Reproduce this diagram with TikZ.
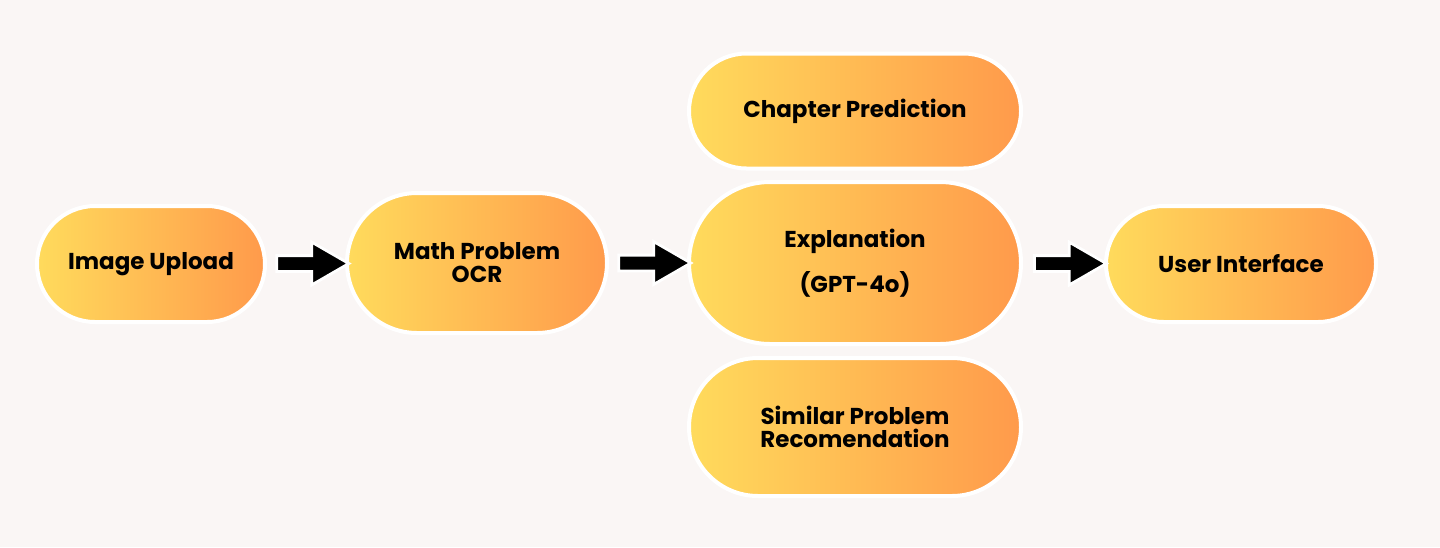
\documentclass[tikz,border=0pt]{standalone}
\usepackage{fontspec}
\setmainfont{Poppins}
\usetikzlibrary{shapes.misc, shapes.arrows, positioning}
\definecolor{bgpaper}{HTML}{FAF6F5}
\definecolor{pillL}{HTML}{FFDB5C}
\definecolor{pillR}{HTML}{FF9A4B}

\begin{document}
\begin{tikzpicture}[x=0.5pt, y=-0.5pt,
    pill/.style={rounded rectangle, draw=white, line width=2pt,
                 left color=pillL, right color=pillR, align=center,
                 font=\fontsize{11.5}{11.5}\selectfont\bfseries, inner sep=0pt},
    flowarrow/.style={single arrow, fill=black, draw=white, line width=1.4pt,
                 minimum height=36pt, inner xsep=0pt, inner ysep=3.25pt,
                 single arrow head extend=6.75pt, single arrow tip angle=60,
                 single arrow head indent=0pt}]

    % Background
    \fill[bgpaper] (0,0) rectangle (1440,547);
    \useasboundingbox (0,0) rectangle (1440,547);

    % Stages
    \node[pill, minimum width=114pt, minimum height=58pt] (upload) at (151,264) {Image Upload};
    \node[pill, minimum width=130pt, minimum height=70pt] (ocr) at (477,263) {Math Problem\\OCR};
    \node[pill, minimum width=166pt, minimum height=57.5pt] (chapter) at (855,111) {Chapter Prediction};
    \node[pill, minimum width=166pt, minimum height=81pt,
          font=\fontsize{11.5}{22.5}\selectfont\bfseries] (explain) at (855,263) {Explanation\\(GPT-4o)};
    \node[pill, minimum width=166pt, minimum height=69pt] (similar) at (855,427) {Similar Problem\\Recomendation};
    \node[pill, minimum width=135pt, minimum height=58pt] (ui) at (1241,264) {User Interface};

    % Arrows
    \path (upload) -- node[flowarrow]{} (ocr);
    \path (ocr) -- node[flowarrow]{} (explain);
    \path (explain) -- node[flowarrow]{} (ui);
\end{tikzpicture}
\end{document}
